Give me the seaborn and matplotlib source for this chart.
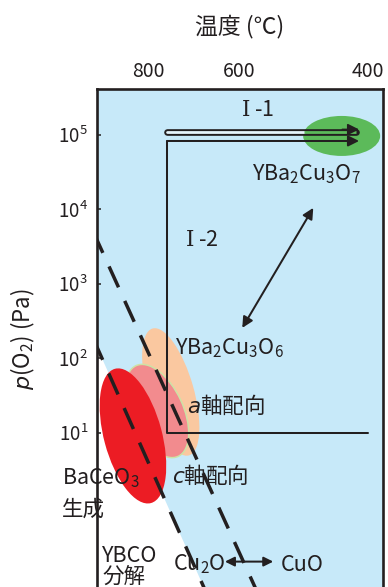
import numpy as np
import matplotlib
matplotlib.use("Agg")
import matplotlib.pyplot as plt
import seaborn as sns
from matplotlib.patches import Ellipse
from matplotlib.transforms import ScaledTranslation

# ---------------- data ----------------
temp_ticks = [800, 600, 400]
temp_tick_labels = ["800", "600", "400"]
po2_ticks = [1e1, 1e2, 1e3, 1e4, 1e5]
po2_tick_labels = ["$10^{1}$", "$10^{2}$", "$10^{3}$", "$10^{4}$", "$10^{5}$"]

# phase boundaries (temperature in C, p(O2) in Pa)
ybco_decomp_T = [920, 660]
ybco_decomp_p = [183, 0.049]
cu_oxide_T = [920, 560]
cu_oxide_p = [4980, 0.0436]

# process route I-2 (ends with arrow)
route2_T = [400, 758, 758]
route2_p = [10, 10, 8.3e4]
route2_end_T = 414
route2_end_p = 8.3e4
# process route I-1 (double tube with arrow)
route1_T = [758, 419]
route1_p = [1.1e5, 1.1e5]
route1_head_p = 1.186e5

# oxidation arrow YBa2Cu3O6 <-> YBa2Cu3O7
ox_T = [595, 485]
ox_p = [257, 1.05e4]
# Cu2O <-> CuO arrow
cu_T = [631, 547]
cu_p = [0.1875, 0.1875]

# regions (centres)
region_names = ["YBa2Cu3O7", "a-axis", "c-axis", "BaCeO3"]
region_T = [441, 750, 780, 833]
region_p = [9.7e4, 35.5, 19.7, 9.12]

# ---------------- style ----------------
sns.set_theme(style="white")
plt.rcParams["font.family"] = ["Noto Sans CJK JP", "DejaVu Sans"]
plt.rcParams["mathtext.fontset"] = "custom"
plt.rcParams["mathtext.rm"] = "Noto Sans CJK JP"
plt.rcParams["mathtext.it"] = "DejaVu Sans:italic"
plt.rcParams["mathtext.bf"] = "Noto Sans CJK JP:bold"
plt.rcParams["mathtext.tt"] = "DejaVu Serif"

DARK = "#231f20"
BLUE = "#c7e9f9"
GREEN = "#5cba5a"
RED = "#ec1c24"
PEACH = "#fac8a0"
PINK = "#f28b8e"
PINK_EDGE = "#cde3a6"

fig = plt.figure(figsize=(3.88, 5.87), dpi=100)
ax = fig.add_axes([0.25, -0.0221, 0.737, 0.8705])
ax.set_facecolor(BLUE)

# boundaries
sns.lineplot(x=ybco_decomp_T, y=ybco_decomp_p, ax=ax, sort=False, estimator=None,
             color=DARK, lw=2.5, linestyle=(0, (6.6, 4.3)), zorder=4)
sns.lineplot(x=cu_oxide_T, y=cu_oxide_p, ax=ax, sort=False, estimator=None,
             color=DARK, lw=2.5, linestyle=(0, (6.6, 4.3)), zorder=4)
# white decomposition region
ax.fill([ybco_decomp_T[0], ybco_decomp_T[1], ybco_decomp_T[0]],
        [ybco_decomp_p[0], ybco_decomp_p[1], ybco_decomp_p[1]],
        color="white", lw=0, zorder=0.5)

# route I-2
sns.lineplot(x=route2_T, y=route2_p, ax=ax, sort=False, estimator=None,
             color=DARK, lw=1.45, zorder=3)
ax.annotate("", xy=(route2_end_T, route2_end_p), xytext=(route2_T[-1], route2_p[-1]),
            arrowprops=dict(arrowstyle="-|>", color=DARK, lw=1.45,
                            mutation_scale=16, shrinkA=0, shrinkB=0), zorder=3)

# route I-1 tube
ax.plot(route1_T, route1_p, color=DARK, lw=4.8, solid_capstyle="round", zorder=3)
ax.plot([route1_T[0], 500], route1_p, color="#e6f5fc", lw=2.0,
        solid_capstyle="round", zorder=3.1)
ax.plot([500, route1_T[1]], route1_p, color=GREEN, lw=2.0,
        solid_capstyle="butt", zorder=3.1)
ax.annotate("", xy=(route2_end_T, route1_head_p), xytext=(440, route1_head_p),
            arrowprops=dict(arrowstyle="-|>", color=DARK, lw=1.2,
                            mutation_scale=17, shrinkA=0, shrinkB=0), zorder=3.2)

# double arrows
ax.annotate("", xy=(ox_T[1], ox_p[1]), xytext=(ox_T[0], ox_p[0]),
            arrowprops=dict(arrowstyle="<|-|>", color=DARK, lw=1.45,
                            mutation_scale=16, shrinkA=0, shrinkB=0), zorder=3)
ax.annotate("", xy=(cu_T[1], cu_p[1]), xytext=(cu_T[0], cu_p[0]),
            arrowprops=dict(arrowstyle="<|-|>", color=DARK, lw=1.45,
                            mutation_scale=14, shrinkA=0, shrinkB=0), zorder=3)

# region ellipses (sizes in inches)
ell_style = {
    "YBa2Cu3O7": dict(w=0.77, h=0.40, ang=0, fc=GREEN, ec="none", lw=0, z=1.0),
    "a-axis": dict(w=1.32, h=0.46, ang=106, fc=PEACH, ec="none", lw=0, z=1.0),
    "c-axis": dict(w=1.00, h=0.52, ang=115, fc=PINK, ec=PINK_EDGE, lw=1.1, z=1.1),
    "BaCeO3": dict(w=1.39, h=0.58, ang=105, fc=RED, ec="none", lw=0, z=1.2),
}
for name, T, p in zip(region_names, region_T, region_p):
    s = ell_style[name]
    e = Ellipse((0, 0), s["w"], s["h"], angle=s["ang"], facecolor=s["fc"],
                edgecolor=s["ec"], lw=s["lw"], zorder=s["z"],
                transform=fig.dpi_scale_trans + ScaledTranslation(T, p, ax.transData))
    ax.add_patch(e)

# scales: temperature axis, increasing function of T, shown inverted
def fwd(T):
    T = np.asarray(T, dtype=float)
    return -np.where(T >= 600, (800 - T) / 200 * 91, 91 + (600 - T) / 200 * 129)

def inv(x):
    x = -np.asarray(x, dtype=float)
    return np.where(x <= 91, 800 - x * 200 / 91, 600 - (x - 91) * 200 / 129)

ax.set_xscale("function", functions=(fwd, inv))
ax.set_yscale("log")
ax.set_xlim(912, 377)
ax.set_ylim(10 ** -1.242, 10 ** 5.617)

ax.xaxis.tick_top()
ax.set_xticks(temp_ticks)
ax.set_xticklabels(temp_tick_labels)
ax.xaxis.set_minor_locator(matplotlib.ticker.NullLocator())
ax.set_yticks(po2_ticks)
ax.set_yticklabels(po2_tick_labels)
ax.yaxis.set_minor_locator(matplotlib.ticker.NullLocator())
ax.tick_params(axis="x", length=0, pad=5, labelsize=14, colors=DARK)
ax.tick_params(axis="y", direction="in", length=3, width=1.1, pad=6.5,
               labelsize=13.5, colors=DARK, left=True)

ax.xaxis.set_label_position("top")
ax.set_xlabel("温度 (℃)", fontsize=16.5, labelpad=20, color=DARK)
ax.set_ylabel("$p$(O$_2$) (Pa)", fontsize=16, color=DARK)
ax.yaxis.set_label_coords(-0.21, 0.51)

for sp in ax.spines.values():
    sp.set_color(DARK)
    sp.set_linewidth(1.9)
    sp.set_zorder(5)

# labels
txt = dict(color=DARK, fontsize=15.5, zorder=6)
ax.text(570.5, 2.17e5, r"$\mathtt{I}$ -1", ha="center", va="center", **txt)
ax.text(681, 3.9e3, r"$\mathtt{I}$ -2", ha="center", va="center", **txt)
ax.text(580, 2.49e4, "YBa$_2$Cu$_3$O$_7$", ha="left", va="baseline", **txt)
ax.text(741, 115, "YBa$_2$Cu$_3$O$_6$", ha="left", va="baseline", **txt)
ax.text(714, 18.5, "$a$軸配向", ha="left", va="baseline", **txt)
ax.text(747, 2.13, "$c$軸配向", ha="left", va="baseline", **txt)
ax.text(989, 2.07, "BaCeO$_3$", ha="left", va="baseline", **txt)
ax.text(989, 0.925, "生成", ha="left", va="center", **txt)
ax.text(901, 0.1875, "YBCO", ha="left", va="baseline", **txt)
ax.text(901, 0.118, "分解", ha="left", va="center", **txt)
ax.text(745, 0.142, "Cu$_2$O", ha="left", va="baseline", **txt)
ax.text(536, 0.142, "CuO", ha="left", va="baseline", **txt)

fig.savefig("out.png", dpi=100)
